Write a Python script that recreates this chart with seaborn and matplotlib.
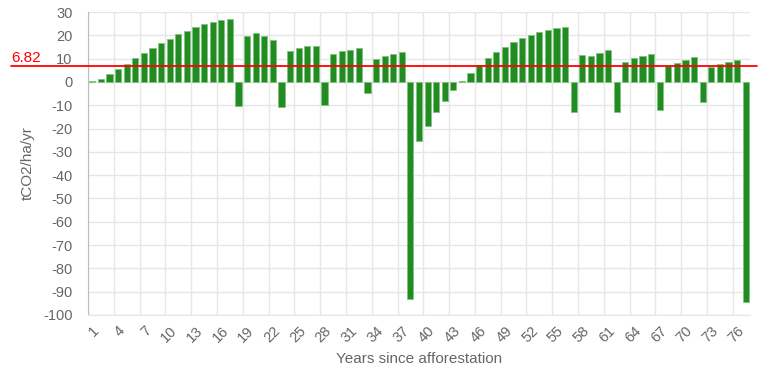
import numpy as np
import matplotlib
matplotlib.use("Agg")
import matplotlib.pyplot as plt
import matplotlib.transforms as mtransforms
import seaborn as sns

years = list(range(1, 78))
co2 = [0.3, 1.4, 3.4, 5.6, 7.9, 10.1, 12.4, 14.6, 16.7, 18.6,
       20.4, 22.0, 23.4, 24.7, 25.7, 26.6, 27.1, -10.4, 19.6, 21.0,
       19.6, 18.0, -10.7, 13.3, 14.4, 15.6, 15.6, -9.9, 12.1, 13.1,
       13.7, 14.4, -4.9, 10.0, 11.1, 11.9, 12.7, -93.0, -25.3, -18.7,
       -13.0, -8.0, -3.4, 0.5, 4.0, 7.3, 10.1, 12.7, 14.9, 17.0,
       18.7, 20.1, 21.3, 22.3, 23.0, 23.6, -12.9, 11.7, 11.1, 12.6,
       13.9, -13.0, 8.7, 10.1, 11.3, 12.1, -11.9, 6.7, 8.3, 9.4,
       10.6, -8.4, 6.3, 7.7, 8.7, 9.6, -94.3]
average = 6.82
y_ticks = list(range(-100, 31, 10))

sns.set_style("white")
plt.rcParams['font.family'] = ['Liberation Sans', 'DejaVu Sans']

grid_col = '#e6e6e6'
text_col = '#666666'

fig = plt.figure(figsize=(7.6, 3.7), dpi=100)
ax = fig.add_axes([88/760, 55/370, 662/760, 303/370])

sns.barplot(x=years, y=co2, color='#228b22', saturation=1, width=0.72,
            edgecolor='#7cc47c', linewidth=0.6, ax=ax, zorder=3)

ax.set_xlim(-0.5, len(years) - 0.5)
ax.set_ylim(-100, 30)

# x ticks: labels at bar centres, grid lines between categories
ax.set_xticks(range(0, len(years), 3))
ax.set_xticklabels([str(y) for y in years[::3]], rotation=45, ha='right',
                   rotation_mode='anchor', color=text_col, fontsize=10.5)
ax.set_xticks(np.arange(-0.5, len(years), 3), minor=True)
ax.tick_params(axis='x', which='major', length=0, pad=6)
ax.tick_params(axis='x', which='minor', length=5, color=grid_col)
ax.xaxis.grid(True, which='minor', color=grid_col, linewidth=1)
ax.xaxis.grid(False, which='major')

ax.set_yticks(y_ticks)
ax.set_yticklabels([str(v) for v in y_ticks], color=text_col, fontsize=10.5)
ax.tick_params(axis='y', length=9, color=grid_col, pad=2)
ax.yaxis.grid(True, color=grid_col, linewidth=1)
ax.set_axisbelow(True)

for s in ['top', 'right']:
    ax.spines[s].set_visible(False)
ax.spines['left'].set_color('#bdbdbd')
ax.spines['bottom'].set_color(grid_col)

ax.set_xlabel('Years since afforestation', color=text_col, fontsize=11, labelpad=5)
ax.set_ylabel('tCO2/ha/yr', color=text_col, fontsize=11, labelpad=6)

# average line across the whole canvas
trans = mtransforms.blended_transform_factory(fig.transFigure, ax.transData)
ax.plot([11/760, 757/760], [average, average], color='red', linewidth=1.3,
        transform=trans, clip_on=False, zorder=5)
ax.text(11/760, average + 0.4, f'{average}', color='red', fontsize=11,
        transform=trans, ha='left', va='bottom')

fig.savefig('out.png', dpi=100)
